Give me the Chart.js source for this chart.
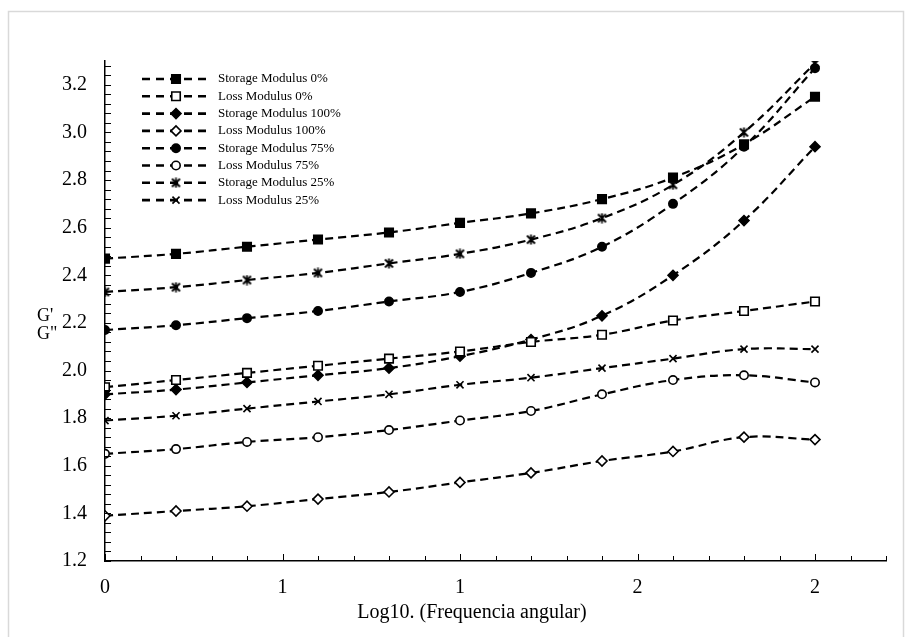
<!DOCTYPE html>
<html>
<head>
<meta charset="utf-8">
<script src="https://cdn.jsdelivr.net/npm/chart.js@4.4.1/dist/chart.umd.min.js"></script>
<style>
  html, body { margin: 0; padding: 0; background: #fff; }
  #wrap { width: 912px; height: 637px; }
</style>
</head>
<body>
<div id="wrap"><canvas id="chart" width="912" height="637"></canvas></div>
<script>
// values
const logFreq = [0, 0.2, 0.4, 0.6, 0.8, 1.0, 1.2, 1.4, 1.6, 1.8, 2.0];
const storage0 = [2.47, 2.49, 2.52, 2.55, 2.58, 2.62, 2.66, 2.72, 2.81, 2.95, 3.15];
const loss0 = [1.93, 1.96, 1.99, 2.02, 2.05, 2.08, 2.12, 2.15, 2.21, 2.25, 2.29];
const storage100 = [1.90, 1.92, 1.95, 1.98, 2.01, 2.06, 2.13, 2.23, 2.40, 2.63, 2.94];
const loss100 = [1.39, 1.41, 1.43, 1.46, 1.49, 1.53, 1.57, 1.62, 1.66, 1.72, 1.71];
const storage75 = [2.17, 2.19, 2.22, 2.25, 2.29, 2.33, 2.41, 2.52, 2.70, 2.94, 3.27];
const loss75 = [1.65, 1.67, 1.70, 1.72, 1.75, 1.79, 1.83, 1.90, 1.96, 1.98, 1.95];
const storage25 = [2.33, 2.35, 2.38, 2.41, 2.45, 2.49, 2.55, 2.64, 2.78, 3.00, 3.29];
const loss25 = [1.79, 1.81, 1.84, 1.87, 1.90, 1.94, 1.97, 2.01, 2.05, 2.09, 2.09];

const seriesNames = ['Storage Modulus 0%', 'Loss Modulus 0%', 'Storage Modulus 100%', 'Loss Modulus 100%',
  'Storage Modulus 75%', 'Loss Modulus 75%', 'Storage Modulus 25%', 'Loss Modulus 25%'];

const yTickValues = [1.2, 1.4, 1.6, 1.8, 2.0, 2.2, 2.4, 2.6, 2.8, 3.0, 3.2];
const xTickValues = [0, 0.5, 1, 1.5, 2];
const xTickLabels = ['0', '1', '1', '2', '2'];
const xTitle = 'Log10. (Frequencia angular)';
const yTitle = ["G'", 'G"'];

const serif = "'Liberation Serif', 'Times New Roman', serif";

// asterisk marker (x with a vertical bar), like the office one
const starMark = document.createElement('canvas');
starMark.width = 11;
starMark.height = 11;
(() => {
  const c = starMark.getContext('2d');
  c.strokeStyle = '#000';
  c.lineWidth = 1.8;
  c.beginPath();
  c.moveTo(1.5, 1.5); c.lineTo(9.5, 9.5);
  c.moveTo(9.5, 1.5); c.lineTo(1.5, 9.5);
  c.moveTo(5.5, 0.5); c.lineTo(5.5, 10.5);
  c.stroke();
})();

const makeSeries = (label, values, style, filled, radius) => ({
  label: label,
  data: values.map((v, i) => ({ x: logFreq[i], y: v })),
  borderColor: '#000',
  borderWidth: 2.2,
  borderDash: [8, 5],
  tension: 0.4,
  fill: false,
  pointStyle: style,
  pointRadius: radius,
  pointHoverRadius: radius,
  pointBackgroundColor: filled ? '#000' : '#fff',
  pointBorderColor: '#000',
  pointBorderWidth: 1.6,
});

const allSeries = [storage0, loss0, storage100, loss100, storage75, loss75, storage25, loss25];
const styles = ['rect', 'rect', 'rectRot', 'rectRot', 'circle', 'circle', starMark, 'crossRot'];
const filledFlags = [true, false, true, false, true, false, true, false];
const radii = [6, 6, 5, 5, 4.2, 4.2, 5, 5];

const datasets = allSeries.map((vals, i) => makeSeries(seriesNames[i], vals, styles[i], filledFlags[i], radii[i]));

const extras = {
  id: 'extras',
  beforeDraw(chart) {
    const ctx = chart.ctx;
    ctx.save();
    ctx.fillStyle = '#fff';
    ctx.fillRect(0, 0, chart.width, chart.height);
    ctx.strokeStyle = '#d9d9d9';
    ctx.lineWidth = 1.5;
    ctx.strokeRect(8.5, 11.5, 895, 640);
    ctx.restore();
  },
  afterDraw(chart) {
    const ctx = chart.ctx;
    const xs = chart.scales.x, ys = chart.scales.y;
    ctx.save();
    ctx.strokeStyle = '#000';
    ctx.lineWidth = 1;
    // inner ticks on y (minor every 0.04)
    for (let k = 0; k <= 52; k++) {
      const py = Math.round(ys.getPixelForValue(1.2 + k * 0.04)) + 0.5;
      ctx.beginPath();
      ctx.moveTo(xs.left, py);
      ctx.lineTo(xs.left + 6, py);
      ctx.stroke();
    }
    // inner ticks on x (minor every 0.1)
    for (let k = 0; k <= 22; k++) {
      const px = Math.round(xs.getPixelForValue(k * 0.1)) + 0.5;
      const len = k % 5 === 0 ? 7 : 5;
      ctx.beginPath();
      ctx.moveTo(px, ys.bottom);
      ctx.lineTo(px, ys.bottom - len);
      ctx.stroke();
    }
    // axis titles
    ctx.fillStyle = '#000';
    ctx.font = '20px ' + serif;
    ctx.textAlign = 'center';
    ctx.textBaseline = 'middle';
    ctx.fillText(xTitle, 472, 613);
    ctx.font = '18px ' + serif;
    ctx.textAlign = 'left';
    ctx.fillText(yTitle[0], 37, 316);
    ctx.fillText(yTitle[1], 37, 334);

    // legend: dashed line with the marker in the middle
    chart.data.datasets.forEach((ds, i) => {
      const ly = 79 + i * 17.3;
      ctx.save();
      ctx.strokeStyle = '#000';
      ctx.lineWidth = 2.6;
      ctx.setLineDash([8, 6]);
      ctx.beginPath();
      ctx.moveTo(142, ly);
      ctx.lineTo(208, ly);
      ctx.stroke();
      ctx.setLineDash([]);
      ctx.fillStyle = ds.pointBackgroundColor;
      ctx.strokeStyle = ds.pointBorderColor;
      ctx.lineWidth = ds.pointBorderWidth;
      Chart.helpers.drawPoint(ctx, {
        pointStyle: ds.pointStyle,
        radius: ds.pointRadius,
        rotation: 0,
        borderWidth: ds.pointBorderWidth,
      }, 176, ly);
      ctx.restore();
      ctx.fillStyle = '#000';
      ctx.font = '13px ' + serif;
      ctx.textAlign = 'left';
      ctx.textBaseline = 'middle';
      ctx.fillText(ds.label, 218, ly);
    });
    ctx.restore();
  }
};

new Chart(document.getElementById('chart'), {
  type: 'line',
  data: { datasets: datasets },
  options: {
    responsive: false,
    animation: false,
    devicePixelRatio: 1,
    layout: { padding: { top: 61, right: 26, left: 0, bottom: 0 } },
    plugins: {
      legend: { display: false },
      tooltip: { enabled: false },
    },
    scales: {
      x: {
        type: 'linear',
        min: 0,
        max: 2.2,
        afterFit: (scale) => { scale.height = 76; },
        afterBuildTicks: (scale) => { scale.ticks = xTickValues.map(v => ({ value: v })); },
        grid: { display: false, drawTicks: false },
        border: { display: true, color: '#000', width: 1.5 },
        ticks: {
          padding: 15,
          color: '#000',
          font: { family: serif, size: 20 },
          maxRotation: 0,
          callback: (v, i) => xTickLabels[i],
        },
      },
      y: {
        type: 'linear',
        min: 1.2,
        max: 3.3,
        afterFit: (scale) => { scale.width = 105; },
        afterBuildTicks: (scale) => { scale.ticks = yTickValues.map(v => ({ value: v })); },
        grid: { display: false, drawTicks: false },
        border: { display: true, color: '#000', width: 1.5 },
        ticks: {
          padding: 18,
          color: '#000',
          font: { family: serif, size: 20 },
          callback: (v) => Number(v).toFixed(1),
        },
      },
    },
  },
  plugins: [extras],
});
</script>
</body>
</html>
